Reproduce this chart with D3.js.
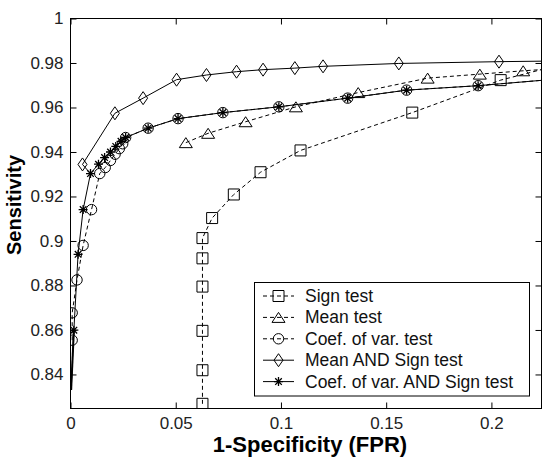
<!DOCTYPE html>
<html>
<head>
<meta charset="utf-8">
<script src="https://cdn.jsdelivr.net/npm/d3@7"></script>
<style>
  body { margin: 0; background: #fff; }
  svg { display: block; }
  text { font-family: "Liberation Sans", Arial, sans-serif; }
</style>
</head>
<body>
<svg id="chart" width="543" height="457"></svg>
<script>
// values
const xTicks = [0, 0.05, 0.1, 0.15, 0.2];
const yTicks = [0.84, 0.86, 0.88, 0.9, 0.92, 0.94, 0.96, 0.98, 1];

const seriesNames = ["Sign test", "Mean test", "Coef. of var. test", "Mean AND Sign test", "Coef. of var. AND Sign test"];

const signFpr = [0.0627, 0.0627, 0.0627, 0.0627, 0.0627, 0.0627, 0.0673, 0.0776, 0.0903, 0.1093, 0.1624, 0.2044, 0.24];
const signTpr = [0.8268, 0.8419, 0.8596, 0.8795, 0.8922, 0.9013, 0.9103, 0.9209, 0.9309, 0.9407, 0.9577, 0.9723, 0.981];

const meanFpr = [0.0548, 0.0654, 0.0832, 0.1071, 0.1367, 0.1697, 0.1945, 0.2151, 0.24];
const meanTpr = [0.9442, 0.9484, 0.9536, 0.9603, 0.9667, 0.9732, 0.975, 0.9765, 0.978];

const cvFpr = [0.0008, 0.0008, 0.0031, 0.006, 0.01, 0.0139, 0.0165, 0.019, 0.0212, 0.0232, 0.0248, 0.0262,
  0.0369, 0.0511, 0.0724, 0.099, 0.1317, 0.1597, 0.1937, 0.24];
const cvTpr = [0.8554, 0.8677, 0.8825, 0.898, 0.9141, 0.9303, 0.933, 0.9362, 0.939, 0.9415, 0.9437, 0.9465,
  0.9507, 0.955, 0.9577, 0.9603, 0.9642, 0.9678, 0.9698, 0.9735];

// first point of these two is only a line end, no marker is drawn on it
const meanSignFpr = [0.0095, 0.0057, 0.0211, 0.0345, 0.0504, 0.0646, 0.0789, 0.0915, 0.1066, 0.12, 0.156, 0.2036, 0.24];
const meanSignTpr = [0.9303, 0.9344, 0.9574, 0.9642, 0.9725, 0.9746, 0.9761, 0.977, 0.9777, 0.9785, 0.9798, 0.9806, 0.981];

const cvSignFpr = [0.0003, 0.0016, 0.0036, 0.006, 0.0095, 0.0133, 0.0162, 0.019, 0.0215, 0.024, 0.0262,
  0.0369, 0.0511, 0.0724, 0.099, 0.1317, 0.1597, 0.1937, 0.24];
const cvSignTpr = [0.833, 0.8599, 0.894, 0.9141, 0.9303, 0.9345, 0.9375, 0.94, 0.9425, 0.9448, 0.9465,
  0.9507, 0.955, 0.9577, 0.9603, 0.9642, 0.9678, 0.9698, 0.9735];

const fprs = [signFpr, meanFpr, cvFpr, meanSignFpr, cvSignFpr];
const tprs = [signTpr, meanTpr, cvTpr, meanSignTpr, cvSignTpr];

// look of each series, same order as seriesNames
const styles = [
  { dash: "4,3", marker: "square", markerFrom: 0 },
  { dash: "4,3", marker: "triangle", markerFrom: 0 },
  { dash: "4,3", marker: "circle", markerFrom: 0 },
  { dash: null, marker: "diamond", markerFrom: 1 },
  { dash: null, marker: "star", markerFrom: 1 }
];

const svg = d3.select("#chart");
const plotLeft = 70.5, plotRight = 541.5, plotTop = 18.5, plotBottom = 408.5;

const x = d3.scaleLinear().domain([0, 0.2238]).range([plotLeft, plotRight]);
const y = d3.scaleLinear().domain([0.8247, 1]).range([plotBottom, plotTop]);

svg.append("rect").attr("width", 543).attr("height", 457).attr("fill", "#fff");

function markerPath(kind) {
  switch (kind) {
    case "square": return "M-5.5,-5.5H5.5V5.5H-5.5Z";
    case "triangle": return "M0,-5L6.5,5H-6.5Z";
    case "circle": return d3.arc()({ innerRadius: 0, outerRadius: 5.2, startAngle: 0, endAngle: 2 * Math.PI });
    case "diamond": return "M0,-6.5L4.5,0L0,6.5L-4.5,0Z";
    case "star": return "M-4.5,0H4.5M0,-4.5V4.5M-3.3,-3.3L3.3,3.3M-3.3,3.3L3.3,-3.3";
    default: return "";
  }
}

svg.append("clipPath").attr("id", "plot-clip")
  .append("rect")
  .attr("x", plotLeft).attr("y", plotTop)
  .attr("width", plotRight - plotLeft).attr("height", plotBottom - plotTop);

const plot = svg.append("g").attr("clip-path", "url(#plot-clip)");

const line = d3.line().x(d => x(d[0])).y(d => y(d[1]));

fprs.forEach((fpr, i) => {
  let pts = fpr.map((f, j) => [f, tprs[i][j]]),
      st = styles[i];

  plot.append("path")
    .datum(pts)
    .attr("d", line)
    .attr("fill", "none")
    .attr("stroke", "#000")
    .attr("stroke-width", 1)
    .attr("stroke-dasharray", st.dash);

  plot.selectAll(null)
    .data(pts.slice(st.markerFrom))
    .enter().append("path")
    .attr("d", markerPath(st.marker))
    .attr("transform", d => `translate(${x(d[0])},${y(d[1])})`)
    .attr("fill", "none")
    .attr("stroke", "#000")
    .attr("stroke-width", st.marker === "star" ? 1.3 : 1);
});

// the bottom of the star line looks heavier in the original
plot.append("path")
  .datum(cvSignFpr.slice(0, 2).map((f, j) => [f, cvSignTpr[j]]))
  .attr("d", line)
  .attr("fill", "none")
  .attr("stroke", "#000")
  .attr("stroke-width", 2);

// axes: ticks point inward on all four sides, like matlab
const fmt = d => String(d);

const xAxis = svg.append("g")
  .attr("transform", `translate(0,${plotBottom})`)
  .call(d3.axisBottom(x).tickValues(xTicks).tickFormat(fmt).tickSizeInner(-6).tickSizeOuter(0).tickPadding(8));

const yAxis = svg.append("g")
  .attr("transform", `translate(${plotLeft},0)`)
  .call(d3.axisLeft(y).tickValues(yTicks).tickFormat(fmt).tickSizeInner(-6).tickSizeOuter(0).tickPadding(7));

svg.append("g")
  .attr("transform", `translate(0,${plotTop})`)
  .call(d3.axisTop(x).tickValues(xTicks).tickFormat("").tickSizeInner(-6).tickSizeOuter(0));

svg.append("g")
  .attr("transform", `translate(${plotRight},0)`)
  .call(d3.axisRight(y).tickValues(yTicks).tickFormat("").tickSizeInner(-6).tickSizeOuter(0));

svg.selectAll(".domain").remove();
svg.selectAll(".tick line").attr("stroke", "#000");

[xAxis, yAxis].forEach(a => {
  a.selectAll("text")
    .attr("font-size", 17)
    .attr("fill", "#222")
    .style("font-family", "'Liberation Sans', Arial, sans-serif");
});

svg.append("rect")
  .attr("x", plotLeft).attr("y", plotTop)
  .attr("width", plotRight - plotLeft).attr("height", plotBottom - plotTop)
  .attr("fill", "none")
  .attr("stroke", "#000");

// axis titles
svg.append("text")
  .attr("x", 310)
  .attr("y", 452)
  .attr("text-anchor", "middle")
  .attr("font-size", 22)
  .attr("font-weight", "bold")
  .text("1-Specificity (FPR)");

svg.append("text")
  .attr("transform", "translate(21,205) rotate(-90)")
  .attr("text-anchor", "middle")
  .attr("font-size", 20)
  .attr("font-weight", "bold")
  .text("Sensitivity");

// legend
const legend = svg.append("g");
const legendTop = 296, legendStep = 21.4;

legend.append("rect")
  .attr("x", 254.5).attr("y", 282.5)
  .attr("width", 275).attr("height", 113.5)
  .attr("fill", "#fff")
  .attr("stroke", "#000");

seriesNames.forEach((name, i) => {
  let cy = legendTop + i * legendStep,
      st = styles[i];

  legend.append("line")
    .attr("x1", 263).attr("x2", 294)
    .attr("y1", cy).attr("y2", cy)
    .attr("stroke", "#000")
    .attr("stroke-dasharray", st.dash);

  legend.append("path")
    .attr("d", markerPath(st.marker))
    .attr("transform", `translate(278.5,${cy})`)
    .attr("fill", "none")
    .attr("stroke", "#000")
    .attr("stroke-width", st.marker === "star" ? 1.3 : 1);

  legend.append("text")
    .attr("x", 305)
    .attr("y", cy + 6)
    .attr("font-size", 17.5)
    .attr("fill", "#111")
    .text(name);
});
</script>
</body>
</html>
